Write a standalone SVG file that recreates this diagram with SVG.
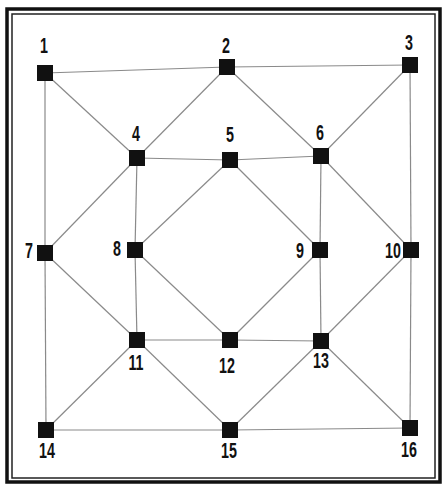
<svg xmlns="http://www.w3.org/2000/svg" width="444" height="485" viewBox="0 0 444 485">
<style>
.e{stroke:#8a8a8a;stroke-width:1.2;fill:none}
.n{fill:#111}
.t{font-family:"Liberation Sans","DejaVu Sans",sans-serif;font-weight:bold;font-size:22px;fill:#111}
.m{text-anchor:middle}
.r{text-anchor:end}
</style>
<rect width="444" height="485" fill="#fff"/>
<rect x="7" y="9" width="433" height="473" fill="none" stroke="#111" stroke-width="3.5"/>
<rect x="12" y="14" width="423" height="464" fill="none" stroke="#222" stroke-width="1.5"/>
<g id="connectors">
<line class="e" x1="45" y1="73" x2="227" y2="67"/>
<line class="e" x1="227" y1="67" x2="410" y2="65"/>
<line class="e" x1="45" y1="73" x2="45" y2="253"/>
<line class="e" x1="45" y1="253" x2="46" y2="430"/>
<line class="e" x1="410" y1="65" x2="411" y2="250"/>
<line class="e" x1="411" y1="250" x2="410" y2="428"/>
<line class="e" x1="46" y1="430" x2="230" y2="430"/>
<line class="e" x1="230" y1="430" x2="410" y2="428"/>
<line class="e" x1="45" y1="73" x2="137" y2="158"/>
<line class="e" x1="227" y1="67" x2="137" y2="158"/>
<line class="e" x1="227" y1="67" x2="321" y2="156"/>
<line class="e" x1="410" y1="65" x2="321" y2="156"/>
<line class="e" x1="137" y1="158" x2="230" y2="160"/>
<line class="e" x1="230" y1="160" x2="321" y2="156"/>
<line class="e" x1="137" y1="158" x2="135" y2="250"/>
<line class="e" x1="135" y1="250" x2="137" y2="340"/>
<line class="e" x1="321" y1="156" x2="320" y2="250"/>
<line class="e" x1="320" y1="250" x2="321" y2="341"/>
<line class="e" x1="137" y1="340" x2="230" y2="340"/>
<line class="e" x1="230" y1="340" x2="321" y2="341"/>
<line class="e" x1="230" y1="160" x2="135" y2="250"/>
<line class="e" x1="230" y1="160" x2="320" y2="250"/>
<line class="e" x1="135" y1="250" x2="230" y2="340"/>
<line class="e" x1="320" y1="250" x2="230" y2="340"/>
<line class="e" x1="137" y1="158" x2="45" y2="253"/>
<line class="e" x1="45" y1="253" x2="137" y2="340"/>
<line class="e" x1="137" y1="340" x2="46" y2="430"/>
<line class="e" x1="137" y1="340" x2="230" y2="430"/>
<line class="e" x1="321" y1="341" x2="230" y2="430"/>
<line class="e" x1="321" y1="341" x2="410" y2="428"/>
<line class="e" x1="321" y1="156" x2="411" y2="250"/>
<line class="e" x1="411" y1="250" x2="321" y2="341"/>
</g>
<g id="node1"><rect class="n" x="37" y="65" width="16" height="16"/><text class="t m" transform="translate(44,53) scale(0.65,1)">1</text></g>
<g id="node2"><rect class="n" x="219" y="59" width="16" height="16"/><text class="t m" transform="translate(226,53) scale(0.65,1)">2</text></g>
<g id="node3"><rect class="n" x="402" y="57" width="16" height="16"/><text class="t m" transform="translate(409,50) scale(0.65,1)">3</text></g>
<g id="node4"><rect class="n" x="129" y="150" width="16" height="16"/><text class="t m" transform="translate(136,141) scale(0.65,1)">4</text></g>
<g id="node5"><rect class="n" x="222" y="152" width="16" height="16"/><text class="t m" transform="translate(230,142) scale(0.65,1)">5</text></g>
<g id="node6"><rect class="n" x="313" y="148" width="16" height="16"/><text class="t m" transform="translate(320,140) scale(0.65,1)">6</text></g>
<g id="node7"><rect class="n" x="37" y="245" width="16" height="16"/><text class="t r" transform="translate(33,258) scale(0.65,1)">7</text></g>
<g id="node8"><rect class="n" x="127" y="242" width="16" height="16"/><text class="t r" transform="translate(121,256) scale(0.65,1)">8</text></g>
<g id="node9"><rect class="n" x="312" y="242" width="16" height="16"/><text class="t r" transform="translate(304,258) scale(0.65,1)">9</text></g>
<g id="node10"><rect class="n" x="403" y="242" width="16" height="16"/><text class="t r" transform="translate(401,258) scale(0.65,1)">10</text></g>
<g id="node11"><rect class="n" x="129" y="332" width="16" height="16"/><text class="t m" transform="translate(136,370) scale(0.65,1)">11</text></g>
<g id="node12"><rect class="n" x="222" y="332" width="16" height="16"/><text class="t m" transform="translate(227,373) scale(0.65,1)">12</text></g>
<g id="node13"><rect class="n" x="313" y="333" width="16" height="16"/><text class="t m" transform="translate(321,368) scale(0.65,1)">13</text></g>
<g id="node14"><rect class="n" x="38" y="422" width="16" height="16"/><text class="t m" transform="translate(47,458) scale(0.65,1)">14</text></g>
<g id="node15"><rect class="n" x="222" y="422" width="16" height="16"/><text class="t m" transform="translate(229,458) scale(0.65,1)">15</text></g>
<g id="node16"><rect class="n" x="402" y="420" width="16" height="16"/><text class="t m" transform="translate(409,457) scale(0.65,1)">16</text></g>
</svg>
